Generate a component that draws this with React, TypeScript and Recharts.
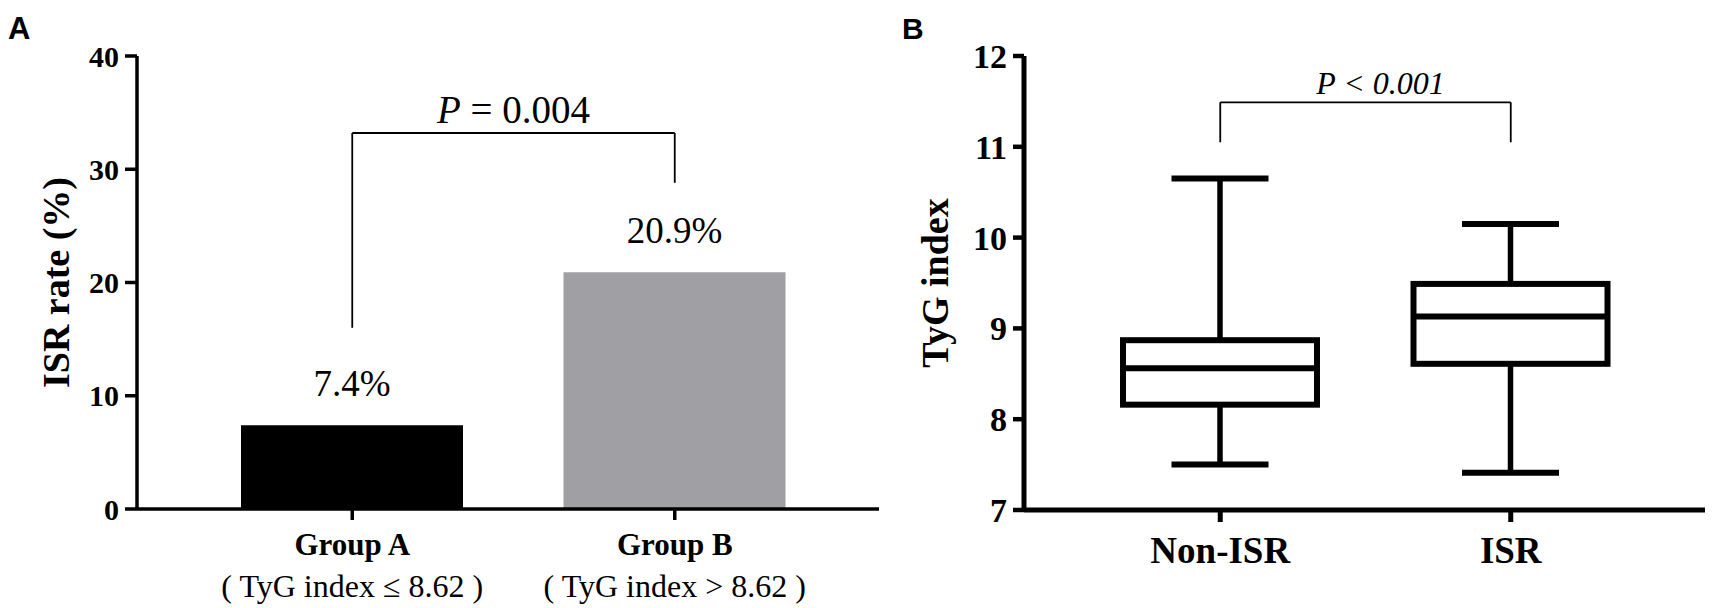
import React from 'react';
import { ComposedChart, Bar, XAxis, YAxis, Cell, LabelList, ReferenceLine } from 'recharts';

const SERIF = '"Liberation Serif", "Times New Roman", serif';
const SANS = '"Liberation Sans", Arial, sans-serif';

// ---------- Panel A data ----------
const groupCategories = ['Group A', 'Group B'];
const groupSubLabels = ['( TyG index \u2264 8.62 )', '( TyG index > 8.62 )'];
const isrRates = [7.4, 20.9];
const barColors = ['#000000', '#a09fa4'];
const rateTicks = [0, 10, 20, 30, 40];
const rateDomain = [0, 40];
const bracketA = { leftLow: 16.0, rightLow: 28.8, top: 33.2 };
const pTextA = { italic: 'P', rest: ' = 0.004' };

// ---------- Panel B data ----------
const boxCategories = ['Non-ISR', 'ISR'];
const boxMin = [7.5, 7.41];
const boxQ1 = [8.16, 8.61];
const boxMedian = [8.56, 9.13];
const boxQ3 = [8.87, 9.49];
const boxMax = [10.65, 10.15];
const tygTicks = [7, 8, 9, 10, 11, 12];
const tygDomain = [7, 12];
const bracketB = { low: 11.05, top: 11.49 };
const pTextB = 'P < 0.001';

const dataA = groupCategories.map((name, i) => ({
  name,
  sub: groupSubLabels[i],
  rate: isrRates[i],
  color: barColors[i],
}));

const dataB = boxCategories.map((name, i) => ({
  name,
  min: boxMin[i],
  q1: boxQ1[i],
  median: boxMedian[i],
  q3: boxQ3[i],
  max: boxMax[i],
  range: [boxMin[i], boxMax[i]],
}));

const GroupTick = (props: any) => {
  const { x, y, payload } = props;
  const idx = groupCategories.indexOf(payload.value);
  return (
    <g>
      <text x={x} y={y + 33} textAnchor="middle" fontFamily={SERIF} fontWeight="bold" fontSize={31} fill="#000">
        {payload.value}
      </text>
      <text x={x} y={y + 75} textAnchor="middle" fontFamily={SERIF} fontSize={32} fill="#000">
        {groupSubLabels[idx]}
      </text>
    </g>
  );
};

const BoxTick = (props: any) => {
  const { x, y, payload } = props;
  return (
    <text x={x} y={y + 39} textAnchor="middle" fontFamily={SERIF} fontWeight="bold" fontSize={37} fill="#000">
      {payload.value}
    </text>
  );
};

const RateLabel = (props: any) => {
  const { x, y, width, value } = props;
  return (
    <text x={Number(x) + Number(width) / 2} y={Number(y) - 29} textAnchor="middle" fontFamily={SERIF} fontSize={37} fill="#000">
      {`${value}%`}
    </text>
  );
};

const makeYLabel = (text: string, baselineX: number) => (props: any) => {
  const vb = props.viewBox || {};
  const x = (vb.x || 0) + baselineX;
  const y = (vb.y || 0) + (vb.height || 0) / 2;
  return (
    <text
      x={x}
      y={y}
      transform={`rotate(-90, ${x}, ${y})`}
      textAnchor="middle"
      fontFamily={SERIF}
      fontWeight="bold"
      fontSize={38}
      fill="#000"
    >
      {text}
    </text>
  );
};

const PLabelA = (props: any) => {
  const vb = props.viewBox || {};
  const cx = (vb.x || 0) + (vb.width || 0) / 2;
  return (
    <text x={cx} y={(vb.y || 0) - 10} textAnchor="middle" fontFamily={SERIF} fontSize={39} fill="#000">
      <tspan fontStyle="italic">{pTextA.italic}</tspan>
      <tspan>{pTextA.rest}</tspan>
    </text>
  );
};

const PLabelB = (props: any) => {
  const vb = props.viewBox || {};
  const cx = (vb.x || 0) + (vb.width || 0) / 2 + 15;
  return (
    <text x={cx} y={(vb.y || 0) - 8} textAnchor="middle" fontFamily={SERIF} fontStyle="italic" fontSize={32} fill="#000">
      {pTextB}
    </text>
  );
};

const BoxShape = (props: any) => {
  const { x, y, width, height, index } = props;
  const d = props.payload && props.payload.q1 !== undefined ? props.payload : dataB[index];
  const top = Math.min(y, y + height);
  const h = Math.abs(height);
  const py = (v: number) => top + ((d.max - v) / (d.max - d.min)) * h;
  const cx = x + width / 2;
  const capW = width / 2;
  return (
    <g>
      <line x1={cx} x2={cx} y1={py(d.max)} y2={py(d.q3)} stroke="#000" strokeWidth={5.5} />
      <line x1={cx} x2={cx} y1={py(d.q1)} y2={py(d.min)} stroke="#000" strokeWidth={5.5} />
      <line x1={cx - capW / 2} x2={cx + capW / 2} y1={py(d.max)} y2={py(d.max)} stroke="#000" strokeWidth={6} />
      <line x1={cx - capW / 2} x2={cx + capW / 2} y1={py(d.min)} y2={py(d.min)} stroke="#000" strokeWidth={6} />
      <rect x={x} y={py(d.q3)} width={width} height={py(d.q1) - py(d.q3)} fill="#fff" stroke="#000" strokeWidth={6} />
      <line x1={x} x2={x + width} y1={py(d.median)} y2={py(d.median)} stroke="#000" strokeWidth={6} />
    </g>
  );
};

export default function App() {
  return (
    <div style={{ position: 'absolute', left: 0, top: 0, width: 1712, height: 608, background: '#fff', overflow: 'hidden' }}>
      <svg width={1712} height={60} style={{ position: 'absolute', left: 0, top: 0 }}>
        <text x={8} y={39} fontFamily={SANS} fontWeight="bold" fontSize={31} fill="#000">A</text>
        <text x={902} y={39} fontFamily={SANS} fontWeight="bold" fontSize={30} fill="#000">B</text>
      </svg>

      <div style={{ position: 'absolute', left: 0, top: 0 }}>
        <ComposedChart width={900} height={608} data={dataA} margin={{ top: 56, right: 21, bottom: 0, left: 0 }}>
          <XAxis
            dataKey="name"
            type="category"
            height={99}
            padding={{ left: 54, right: 43 }}
            axisLine={{ stroke: '#000', strokeWidth: 3.5 }}
            tickLine={{ stroke: '#000', strokeWidth: 3.5 }}
            tickSize={11}
            tickMargin={2}
            interval={0}
            tick={<GroupTick />}
          />
          <YAxis
            type="number"
            domain={rateDomain}
            ticks={rateTicks}
            width={137}
            axisLine={{ stroke: '#000', strokeWidth: 3.5 }}
            tickLine={{ stroke: '#000', strokeWidth: 3.5 }}
            tickSize={12}
            tickMargin={6}
            tick={{ fontFamily: SERIF, fontWeight: 'bold', fontSize: 30, fill: '#000' }}
            label={makeYLabel('ISR rate (%)', 69)}
          />
          <Bar dataKey="rate" barSize={222} isAnimationActive={false}>
            {dataA.map((d, i) => (
              <Cell key={i} fill={d.color} />
            ))}
            <LabelList dataKey="rate" content={RateLabel} />
          </Bar>
          <ReferenceLine
            segment={[{ x: groupCategories[0], y: bracketA.leftLow }, { x: groupCategories[0], y: bracketA.top }]}
            stroke="#000"
            strokeWidth={1.8}
          />
          <ReferenceLine
            segment={[{ x: groupCategories[0], y: bracketA.top }, { x: groupCategories[1], y: bracketA.top }]}
            stroke="#000"
            strokeWidth={1.8}
            label={PLabelA}
          />
          <ReferenceLine
            segment={[{ x: groupCategories[1], y: bracketA.rightLow }, { x: groupCategories[1], y: bracketA.top }]}
            stroke="#000"
            strokeWidth={1.8}
          />
        </ComposedChart>
      </div>

      <div style={{ position: 'absolute', left: 820, top: 0 }}>
        <ComposedChart width={892} height={608} data={dataB} margin={{ top: 56, right: 7, bottom: 0, left: 0 }}>
          <XAxis
            dataKey="name"
            type="category"
            height={98}
            padding={{ left: 51, right: 49 }}
            axisLine={{ stroke: '#000', strokeWidth: 5 }}
            tickLine={{ stroke: '#000', strokeWidth: 5 }}
            tickSize={12}
            tickMargin={2}
            interval={0}
            tick={<BoxTick />}
          />
          <YAxis
            type="number"
            domain={tygDomain}
            ticks={tygTicks}
            width={204}
            axisLine={{ stroke: '#000', strokeWidth: 5 }}
            tickLine={{ stroke: '#000', strokeWidth: 4.5 }}
            tickSize={11}
            tickMargin={6}
            tick={{ fontFamily: SERIF, fontWeight: 'bold', fontSize: 34, fill: '#000' }}
            label={makeYLabel('TyG index', 128)}
          />
          <Bar dataKey="range" barSize={194} isAnimationActive={false} shape={BoxShape} />
          <ReferenceLine
            segment={[{ x: boxCategories[0], y: bracketB.low }, { x: boxCategories[0], y: bracketB.top }]}
            stroke="#000"
            strokeWidth={1.8}
          />
          <ReferenceLine
            segment={[{ x: boxCategories[0], y: bracketB.top }, { x: boxCategories[1], y: bracketB.top }]}
            stroke="#000"
            strokeWidth={1.8}
            label={PLabelB}
          />
          <ReferenceLine
            segment={[{ x: boxCategories[1], y: bracketB.low }, { x: boxCategories[1], y: bracketB.top }]}
            stroke="#000"
            strokeWidth={1.8}
          />
        </ComposedChart>
      </div>
    </div>
  );
}
